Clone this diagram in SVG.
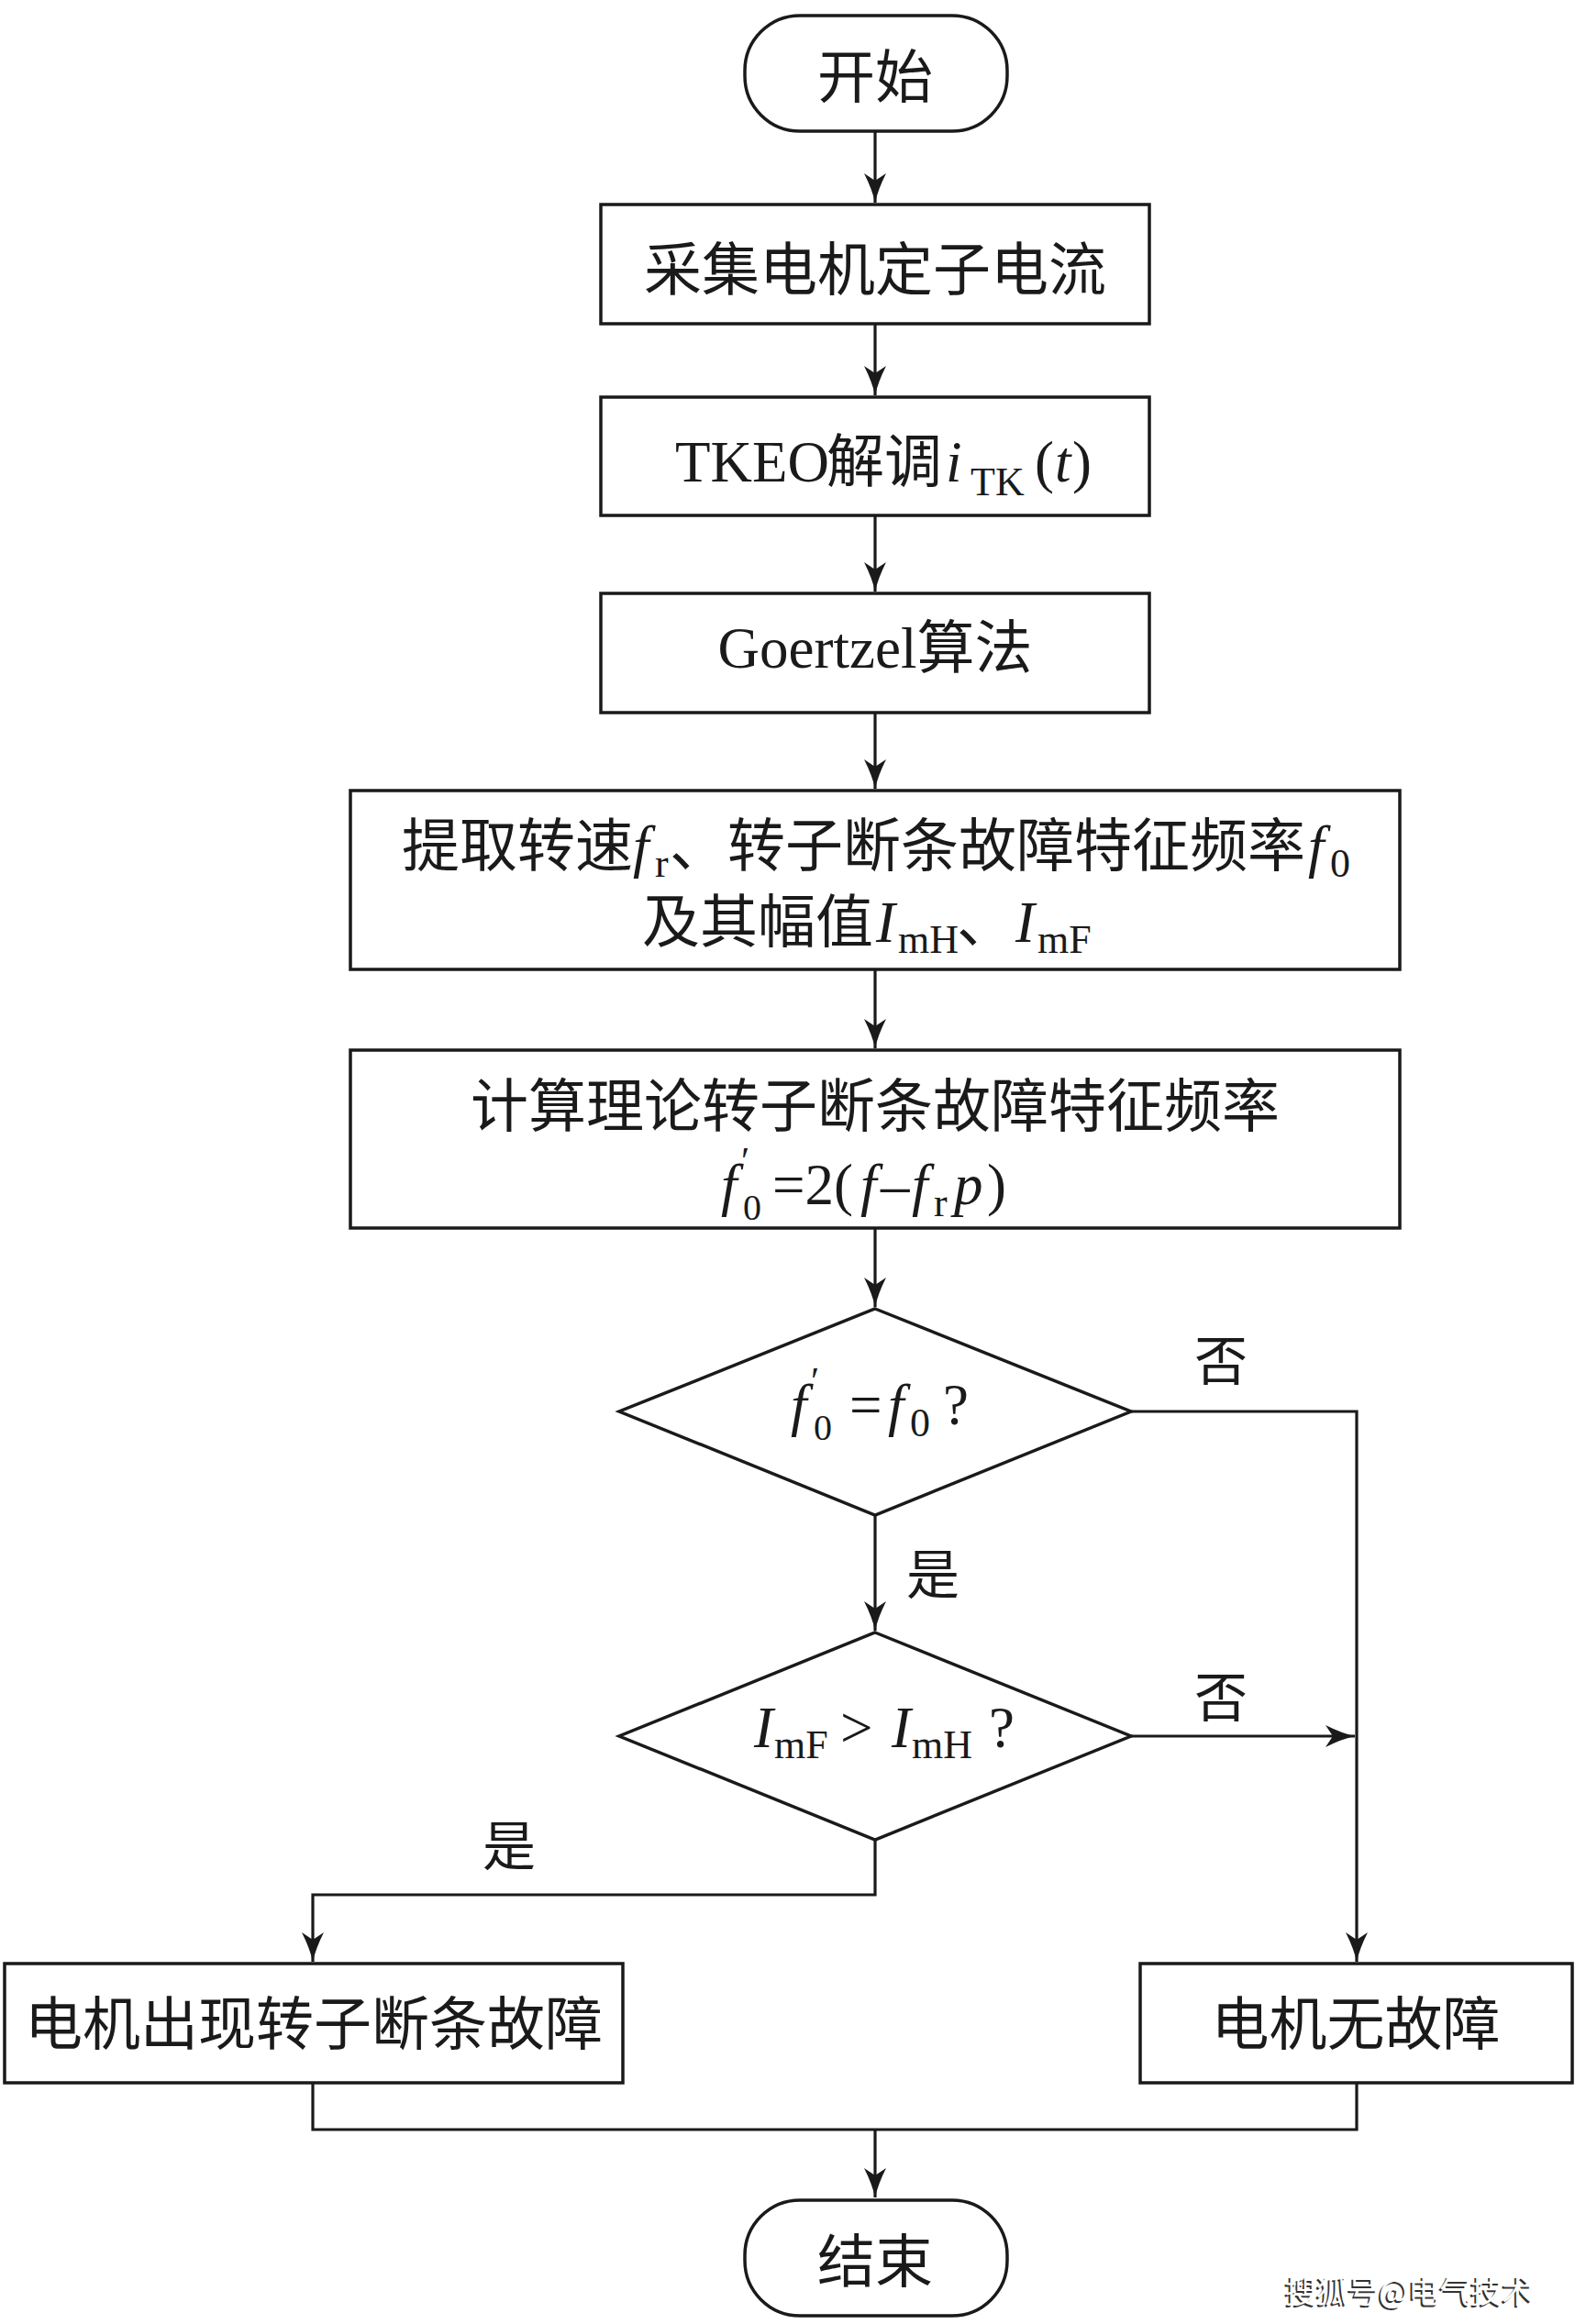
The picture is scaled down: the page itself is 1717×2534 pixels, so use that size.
<svg xmlns="http://www.w3.org/2000/svg" width="1717" height="2534" viewBox="0 0 1717 2534">
<style>
.n{fill:#fff;stroke:#1a1a1a;stroke-width:3.5}
.c{fill:none;stroke:#1a1a1a;stroke-width:3.2}
.t{font-family:"Liberation Serif","Noto Sans CJK SC",serif;font-size:63px;fill:#1a1a1a}
.m{text-anchor:middle}
.i{font-style:italic}
.s{font-size:44px;font-style:normal}
.z{font-size:40px;font-style:normal}
.p{font-size:42px;font-style:normal}
.l{font-size:58px}
.w{font-family:"Noto Sans CJK SC","Noto Sans",sans-serif;font-size:34px}
</style>
<defs>
<marker id="a" viewBox="-34 -14 36 28" markerWidth="36" markerHeight="28" refX="0" refY="0" markerUnits="userSpaceOnUse" orient="auto">
<path d="M0 0Q-14 -3 -32 -12L-24 0L-32 12Q-14 3 0 0Z" fill="#1a1a1a"/>
</marker>
</defs>
<rect width="1717" height="2534" fill="#fff"/>
<g id="connectors">
<path class="c" d="M954 143V221" marker-end="url(#a)"/>
<path class="c" d="M954 353V431" marker-end="url(#a)"/>
<path class="c" d="M954 562V645" marker-end="url(#a)"/>
<path class="c" d="M954 777V860" marker-end="url(#a)"/>
<path class="c" d="M954 1057V1143" marker-end="url(#a)"/>
<path class="c" d="M954 1339V1425" marker-end="url(#a)"/>
<path class="c" d="M954 1652V1778" marker-end="url(#a)"/>
<path class="c" d="M1233 1539H1479V2139" marker-end="url(#a)"/>
<path class="c" d="M1233 1893H1477" marker-end="url(#a)"/>
<path class="c" d="M954 2006V2066H341V2139" marker-end="url(#a)"/>
<path class="c" d="M341 2271V2322H1479V2271"/>
<path class="c" d="M954 2322V2396" marker-end="url(#a)"/>
<text class="t l m" x="1331" y="1505">否</text>
<text class="t l m" x="1017" y="1738">是</text>
<text class="t l m" x="1331" y="1872">否</text>
<text class="t l m" x="555" y="2034">是</text>
</g>
<g id="start">
<rect class="n" x="812" y="17" width="286" height="126" rx="60" ry="60"/>
<text class="t m" x="954" y="106">开始</text>
</g>
<g id="collect">
<rect class="n" x="655" y="223" width="598" height="130"/>
<text class="t m" x="954" y="316">采集电机定子电流</text>
</g>
<g id="tkeo">
<rect class="n" x="655" y="433" width="598" height="129"/>
<text class="t" y="525"><tspan x="736">TKEO</tspan><tspan x="901">解调</tspan><tspan class="i" x="1031">i</tspan><tspan class="s" x="1058" y="540">TK</tspan><tspan x="1128" y="525">(</tspan><tspan class="i" x="1150">t</tspan><tspan x="1169">)</tspan></text>
</g>
<g id="goertzel">
<rect class="n" x="655" y="647" width="598" height="130"/>
<text class="t m" x="954" y="728">Goertzel算法</text>
</g>
<g id="extract">
<rect class="n" x="382" y="862" width="1144" height="195"/>
<text class="t" y="944"><tspan x="438">提取转速</tspan><tspan class="i" x="690">f</tspan><tspan class="s" x="714" y="956">r</tspan><tspan x="730" y="944">、转子断条故障特征频率</tspan><tspan class="i" x="1426">f</tspan><tspan class="s" x="1450" y="956">0</tspan></text>
<text class="t" y="1027"><tspan x="700">及其幅值</tspan><tspan class="i" x="955">I</tspan><tspan class="s" x="979" y="1039">mH</tspan><tspan x="1043" y="1027">、</tspan><tspan class="i" x="1107">I</tspan><tspan class="s" x="1131" y="1039">mF</tspan></text>
</g>
<g id="compute">
<rect class="n" x="382" y="1145" width="1144" height="194"/>
<text class="t m" x="954" y="1228">计算理论转子断条故障特征频率</text>
<text class="t" y="1313"><tspan class="i" x="786">f</tspan><tspan class="p" x="808" y="1280">′</tspan><tspan class="z" x="810" y="1330">0</tspan><tspan x="842" y="1313">=2(</tspan><tspan class="i" x="938">f</tspan><tspan x="960">–</tspan><tspan class="i" x="994">f</tspan><tspan class="s" x="1018" y="1326">r</tspan><tspan class="i" x="1040" y="1313">p</tspan><tspan x="1076">)</tspan></text>
</g>
<g id="decision1">
<polygon class="n" points="954,1427 1233,1539 954,1652 675,1539"/>
<text class="t" y="1553"><tspan class="i" x="862">f</tspan><tspan class="p" x="884" y="1520">′</tspan><tspan class="z" x="887" y="1570">0</tspan><tspan x="926" y="1553">=</tspan><tspan class="i" x="968">f</tspan><tspan class="s" x="992" y="1566">0</tspan><tspan x="1028" y="1553">?</tspan></text>
</g>
<g id="decision2">
<polygon class="n" points="954,1780 1233,1893 954,2006 675,1893"/>
<text class="t" y="1905"><tspan class="i" x="822">I</tspan><tspan class="s" x="844" y="1917">mF</tspan><tspan x="916" y="1905">&gt;</tspan><tspan class="i" x="972">I</tspan><tspan class="s" x="994" y="1917">mH</tspan><tspan x="1078" y="1905">?</tspan></text>
</g>
<g id="fault">
<rect class="n" x="5" y="2141" width="674" height="130"/>
<text class="t m" x="342" y="2229">电机出现转子断条故障</text>
</g>
<g id="nofault">
<rect class="n" x="1243" y="2141" width="471" height="130"/>
<text class="t m" x="1478" y="2229">电机无故障</text>
</g>
<g id="end">
<rect class="n" x="812" y="2399" width="286" height="126" rx="60" ry="60"/>
<text class="t m" x="954" y="2488">结束</text>
</g>
<g id="watermark">
<text class="w" x="1399" y="2513" fill="#333">搜狐号@电气技术</text>
<text class="w" x="1401" y="2511" fill="#fff">搜狐号@电气技术</text>
</g>
</svg>
